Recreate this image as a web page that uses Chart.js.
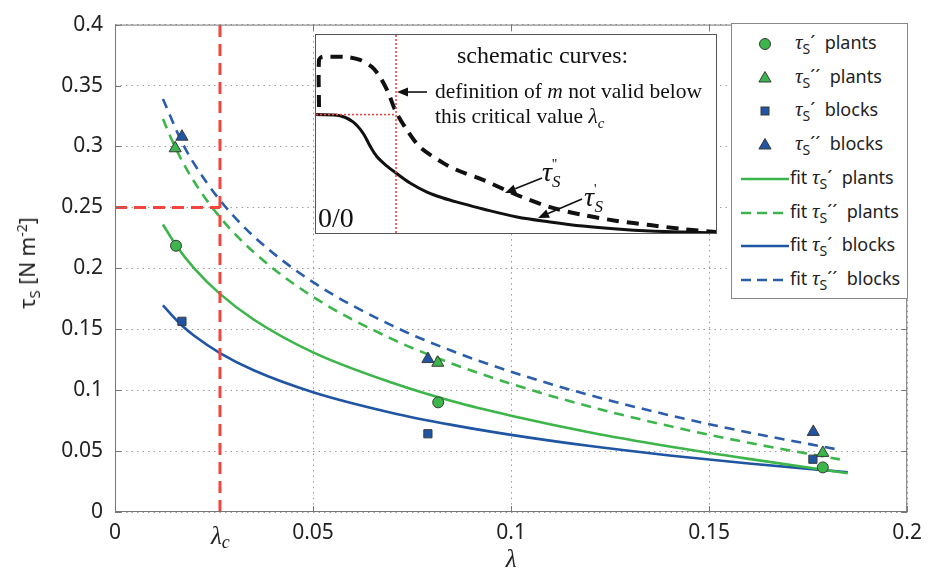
<!DOCTYPE html>
<html><head><meta charset="utf-8">
<script src="https://cdn.jsdelivr.net/npm/chart.js@4/dist/chart.umd.min.js"></script>
<style>
html,body{margin:0;padding:0;background:#fff;}
#wrap{position:relative;width:930px;height:570px;overflow:hidden;font-family:'Noto Sans',sans-serif;color:#222;}
#main{position:absolute;left:0;top:0;}
#insetBox{position:absolute;left:315px;top:34px;width:400px;height:198px;border:1px solid #555;background:#fff;}
#inset{position:absolute;left:0;top:0;}
.ann{position:absolute;white-space:nowrap;font-family:'Liberation Serif',serif;color:#111;line-height:1;}
.ann i{font-style:italic;}
#legend{position:absolute;left:731px;top:23px;width:175px;height:274px;border:1px solid #888;background:#fff;}
.lrow{position:absolute;left:0;height:30px;width:175px;}
.lrow svg{position:absolute;left:9px;top:0;}
.ltxt{position:absolute;left:63px;top:2px;font-size:18px;line-height:22px;white-space:nowrap;color:#222;}
.tau{font-family:'Liberation Serif',serif;font-style:italic;font-size:21px;}
.ltxt sub{font-size:14px;vertical-align:-5px;}
#ytitle{position:absolute;left:28px;top:263px;transform:translate(-50%,-50%) rotate(-90deg);white-space:nowrap;font-size:21px;}
#ytitle sub{font-size:15px;vertical-align:-5px;}
#ytitle sup{font-size:14px;vertical-align:8px;}
#lamc{position:absolute;left:211px;top:523px;font-family:'Liberation Serif',serif;font-style:italic;font-size:25px;line-height:1;}
#lamc sub{font-size:18px;vertical-align:-4px;}
</style></head>
<body>
<div id="wrap">
<canvas id="main" width="930" height="570"></canvas>
<div id="ytitle">τ<sub>S</sub> [N m<sup>-2</sup>]</div>
<div id="lamc">λ<sub>c</sub></div>
<div id="insetBox"><canvas id="inset" width="400" height="198"></canvas></div>
<div class="ann" style="left:457px;top:43px;font-size:24px;">schematic curves:</div>
<div class="ann" style="left:435px;top:81px;font-size:21.5px;">definition of <i>m</i> not valid below</div>
<div class="ann" style="left:435px;top:106px;font-size:21.5px;">this critical value <i>λ<sub style="font-size:15px">c</sub></i></div>
<div class="ann" style="left:542px;top:158px;font-size:28px;"><i>τ</i><span style="font-size:14px;position:relative;top:-12px;">''</span><i style="font-size:17px;position:relative;top:6px;left:-5px;">S</i></div>
<div class="ann" style="left:584px;top:183px;font-size:28px;"><i>τ</i><span style="font-size:14px;position:relative;top:-12px;">'</span><i style="font-size:17px;position:relative;top:6px;left:-2px;">S</i></div>
<div class="ann" style="left:318px;top:204px;font-size:28px;">0/0</div>
<div id="legend"></div>
</div>
<script>
// ---------- data ----------
const xTicks = [0, 0.05, 0.1, 0.15, 0.2];
const xTickLabels = ['0', '0.05', '0.1', '0.15', '0.2'];
const yTicks = [0, 0.05, 0.1, 0.15, 0.2, 0.25, 0.3, 0.35, 0.4];
const yTickLabels = ['0', '0.05', '0.1', '0.15', '0.2', '0.25', '0.3', '0.35', '0.4'];

const lambdaC = 0.0265;
const tauCrit = 0.25;

const plantsLambda = [0.0154, 0.0816, 0.1787];
const tau1Plants   = [0.2185, 0.0900, 0.0366];
const tau2PlantsLambda = [0.0152, 0.0815, 0.1787];
const tau2Plants   = [0.2985, 0.1225, 0.0485];
const blocksLambda = [0.0169, 0.0790, 0.1762];
const tau1Blocks   = [0.1565, 0.0642, 0.0433];
const tau2BlocksLambda = [0.0169, 0.0790, 0.1763];
const tau2Blocks   = [0.3080, 0.1255, 0.0657];

const fit1PlantsX = [0.0121, 0.0154, 0.02, 0.0265, 0.035, 0.05, 0.07, 0.085, 0.1, 0.12, 0.14, 0.16, 0.185];
const fit1PlantsY = [0.236, 0.219, 0.200, 0.179, 0.158, 0.131, 0.106, 0.091, 0.079, 0.0653, 0.0538, 0.0436, 0.0318];
const fit2PlantsX = [0.0121, 0.0154, 0.02, 0.0265, 0.035, 0.05, 0.07, 0.085, 0.1, 0.12, 0.14, 0.16, 0.183];
const fit2PlantsY = [0.3225, 0.298, 0.271, 0.242, 0.2133, 0.1766, 0.1419, 0.1219, 0.1052, 0.0864, 0.0705, 0.0568, 0.0432];
const fit1BlocksX = [0.0121, 0.0169, 0.02, 0.0265, 0.035, 0.05, 0.07, 0.085, 0.1, 0.12, 0.14, 0.16, 0.185];
const fit1BlocksY = [0.1695, 0.153, 0.1446, 0.1304, 0.1163, 0.0983, 0.0813, 0.0715, 0.0633, 0.0541, 0.0464, 0.0398, 0.0326];
const fit2BlocksX = [0.0121, 0.0169, 0.02, 0.0265, 0.035, 0.05, 0.07, 0.085, 0.1, 0.12, 0.14, 0.16, 0.183];
const fit2BlocksY = [0.339, 0.3035, 0.2857, 0.2559, 0.2263, 0.1886, 0.1529, 0.1323, 0.1151, 0.0958, 0.0794, 0.0653, 0.051];

// inset (schematic, normalised 0..1)
const insetSolidX = [0, 0.06, 0.0925, 0.1175, 0.135, 0.1525, 0.1775, 0.2, 0.235, 0.2775, 0.3175, 0.36, 0.4175, 0.5025, 0.585, 0.6675, 0.7525, 0.835, 0.9175, 1.0];
const insetSolidY = [0.598, 0.592, 0.561, 0.505, 0.440, 0.385, 0.338, 0.303, 0.253, 0.207, 0.177, 0.152, 0.121, 0.081, 0.056, 0.035, 0.020, 0.010, 0.005, 0.0];
const insetDashX = [0.0075, 0.0075, 0.015, 0.035, 0.0775, 0.11, 0.14, 0.16, 0.18, 0.2, 0.2275, 0.26, 0.3175, 0.3525, 0.4175, 0.5025, 0.585, 0.6675, 0.7525, 0.835, 0.9175, 1.0];
const insetDashY = [0.636, 0.874, 0.889, 0.890, 0.889, 0.874, 0.838, 0.788, 0.712, 0.611, 0.520, 0.434, 0.354, 0.318, 0.268, 0.192, 0.131, 0.091, 0.061, 0.040, 0.020, 0.005];
const insetCritX = 0.2;
const insetCritY = 0.598;
const insetArrows = [
  {from: [0.2775, 0.712], to: [0.2025, 0.712]},
  {from: [0.565, 0.278], to: [0.4725, 0.202]},
  {from: [0.665, 0.172], to: [0.555, 0.076]}
];

// ---------- style ----------
const GREEN = '#3cb54a', BLUE = '#1f55a3', BLUE2 = '#2a5eab', RED = '#f0463d', EDGE = '#3a3a3a';
const pts = (xs, ys) => xs.map((x, i) => ({x: x, y: ys[i]}));

const markerSets = [
  {label: 'τS´ plants',  data: pts(plantsLambda, tau1Plants), pointStyle: 'circle', pointRadius: 5.5, color: GREEN},
  {label: 'τS´´ plants', data: pts(tau2PlantsLambda, tau2Plants), pointStyle: 'triangle', pointRadius: 7, color: GREEN},
  {label: 'τS´ blocks',  data: pts(blocksLambda, tau1Blocks), pointStyle: 'rect', pointRadius: 5.8, color: BLUE},
  {label: 'τS´´ blocks', data: pts(tau2BlocksLambda, tau2Blocks), pointStyle: 'triangle', pointRadius: 7, color: BLUE}
].map(d => ({
  label: d.label, data: d.data, showLine: false, pointStyle: d.pointStyle, pointRadius: d.pointRadius,
  pointBackgroundColor: d.color, pointBorderColor: EDGE, pointBorderWidth: 1, borderColor: d.color,
  backgroundColor: d.color, legendKind: 'marker', legendColor: d.color
}));

const fitSets = [
  {label: 'fit τS´ plants',  data: pts(fit1PlantsX, fit1PlantsY), color: GREEN, dash: []},
  {label: 'fit τS´´ plants', data: pts(fit2PlantsX, fit2PlantsY), color: GREEN, dash: [10, 7]},
  {label: 'fit τS´ blocks',  data: pts(fit1BlocksX, fit1BlocksY), color: BLUE, dash: []},
  {label: 'fit τS´´ blocks', data: pts(fit2BlocksX, fit2BlocksY), color: BLUE2, dash: [10, 7]}
].map(d => ({
  label: d.label, data: d.data, borderColor: d.color, backgroundColor: d.color, borderWidth: 2.6,
  borderDash: d.dash, pointRadius: 0, cubicInterpolationMode: 'monotone', fill: false, legendKind: 'line'
}));

const redSets = [
  {label: 'lambdaC', data: [{x: lambdaC, y: 0}, {x: lambdaC, y: 0.4}]},
  {label: 'tauCrit', data: [{x: 0, y: tauCrit}, {x: lambdaC, y: tauCrit}]}
].map(d => ({
  label: d.label, data: d.data, borderColor: RED, borderWidth: 3, borderDash: [12, 7], pointRadius: 0,
  fill: false, legendKind: 'none'
}));

const TICK_FONT = {family: 'Noto Sans', size: 21};

const framePlugin = {
  id: 'frame',
  beforeDraw(chart) {
    const c = chart.ctx; c.save(); c.fillStyle = '#fff'; c.fillRect(0, 0, chart.width, chart.height); c.restore();
  },
  afterDatasetsDraw(chart) {
    const {ctx, chartArea: a, scales} = chart;
    ctx.save();
    ctx.strokeStyle = '#777'; ctx.lineWidth = 1; ctx.setLineDash([]);
    ctx.strokeRect(a.left + 0.5, a.top + 0.5, a.right - a.left - 1, a.bottom - a.top - 1);
    const L = 6;
    ctx.beginPath();
    scales.x.ticks.forEach(t => {
      const px = Math.round(scales.x.getPixelForValue(t.value)) + 0.5;
      ctx.moveTo(px, a.bottom); ctx.lineTo(px, a.bottom - L);
      ctx.moveTo(px, a.top); ctx.lineTo(px, a.top + L);
    });
    scales.y.ticks.forEach(t => {
      const py = Math.round(scales.y.getPixelForValue(t.value)) + 0.5;
      ctx.moveTo(a.left, py); ctx.lineTo(a.left + L, py);
      ctx.moveTo(a.right, py); ctx.lineTo(a.right - L, py);
    });
    ctx.stroke();
    ctx.restore();
  }
};

const gridCfg = {color: '#9a9a9a', lineWidth: 1, drawTicks: false, borderDash: [1.5, 4]};

const mainChart = new Chart(document.getElementById('main'), {
  type: 'line',
  data: {datasets: [...markerSets, ...redSets, ...fitSets]},
  options: {
    responsive: false, animation: false, devicePixelRatio: 1,
    layout: {padding: {left: 0, top: 16, right: 22, bottom: 0}},
    plugins: {legend: {display: false}, tooltip: {enabled: false}},
    scales: {
      x: {
        type: 'linear', min: 0, max: 0.2,
        afterBuildTicks: s => { s.ticks = xTicks.map(v => ({value: v})); },
        afterFit: s => { s.height = 58; },
        ticks: {callback: (v, i) => xTickLabels[i], font: TICK_FONT, color: '#222', padding: 8, maxRotation: 0, autoSkip: false},
        grid: gridCfg,
        border: {display: false, dash: [1.5, 4]},
        title: {display: true, text: 'λ', font: {family: 'Liberation Serif', style: 'italic', size: 25}, color: '#222', padding: {top: 0, bottom: -5}}
      },
      y: {
        type: 'linear', min: 0, max: 0.4,
        afterBuildTicks: s => { s.ticks = yTicks.map(v => ({value: v})); },
        afterFit: s => { s.width = 115; },
        ticks: {callback: (v, i) => yTickLabels[i], font: TICK_FONT, color: '#222', padding: 12, autoSkip: false},
        grid: gridCfg,
        border: {display: false, dash: [1.5, 4]}
      }
    }
  },
  plugins: [framePlugin]
});

// ---------- inset ----------
const arrowPlugin = {
  id: 'arrows',
  beforeDraw(chart) {
    const c = chart.ctx; c.save(); c.fillStyle = '#fff'; c.fillRect(0, 0, chart.width, chart.height); c.restore();
  },
  afterDatasetsDraw(chart) {
    const {ctx, scales: {x, y}} = chart;
    ctx.save();
    ctx.strokeStyle = '#111'; ctx.fillStyle = '#111'; ctx.lineWidth = 1.6; ctx.setLineDash([]);
    insetArrows.forEach(a => {
      const x1 = x.getPixelForValue(a.from[0]), y1 = y.getPixelForValue(a.from[1]);
      const x2 = x.getPixelForValue(a.to[0]), y2 = y.getPixelForValue(a.to[1]);
      const ang = Math.atan2(y2 - y1, x2 - x1), h = 11, w = 4.5;
      const bx = x2 - h * Math.cos(ang), by = y2 - h * Math.sin(ang);
      ctx.beginPath(); ctx.moveTo(x1, y1); ctx.lineTo(bx, by); ctx.stroke();
      ctx.beginPath();
      ctx.moveTo(x2, y2);
      ctx.lineTo(bx + w * Math.sin(ang), by - w * Math.cos(ang));
      ctx.lineTo(bx - w * Math.sin(ang), by + w * Math.cos(ang));
      ctx.closePath(); ctx.fill();
    });
    ctx.restore();
  }
};

new Chart(document.getElementById('inset'), {
  type: 'line',
  data: {datasets: [
    {data: [{x: insetCritX, y: 0}, {x: insetCritX, y: 1}], borderColor: RED, borderWidth: 1.6, borderDash: [2, 2], pointRadius: 0},
    {data: [{x: 0, y: insetCritY}, {x: insetCritX, y: insetCritY}], borderColor: RED, borderWidth: 1.6, borderDash: [2, 2], pointRadius: 0},
    {data: pts(insetSolidX, insetSolidY), borderColor: '#111', borderWidth: 3, pointRadius: 0, tension: 0.35},
    {data: pts(insetDashX, insetDashY), borderColor: '#111', borderWidth: 4, borderDash: [12, 8], pointRadius: 0, tension: 0.3}
  ]},
  options: {
    responsive: false, animation: false, devicePixelRatio: 1,
    layout: {padding: 0},
    plugins: {legend: {display: false}, tooltip: {enabled: false}},
    scales: {
      x: {type: 'linear', min: 0, max: 1, display: false},
      y: {type: 'linear', min: 0, max: 1, display: false}
    }
  },
  plugins: [arrowPlugin]
});

// ---------- legend (HTML, from datasets) ----------
function labelHtml(lbl) {
  return lbl.replace(/τS(´+)/, (m, p) => '<span class="tau">τ</span><sub>S</sub>' + p + '&nbsp;');
}
const legendEl = document.getElementById('legend');
[...markerSets, ...fitSets].forEach((d, i) => {
  const row = document.createElement('div');
  row.className = 'lrow';
  row.style.top = (5 + i * 33.7) + 'px';
  let sym = '';
  if (d.legendKind === 'marker') {
    const c = d.legendColor;
    if (d.pointStyle === 'circle') sym = `<circle cx="24" cy="15" r="5.5" fill="${c}" stroke="${EDGE}" stroke-width="1"/>`;
    else if (d.pointStyle === 'rect') sym = `<rect x="20" y="11" width="8" height="8" fill="${c}" stroke="${EDGE}" stroke-width="1"/>`;
    else sym = `<polygon points="24,8.5 30.1,19 17.9,19" fill="${c}" stroke="${EDGE}" stroke-width="1"/>`;
  } else {
    const dash = d.borderDash.length ? `stroke-dasharray="10 6"` : '';
    sym = `<line x1="0" y1="15" x2="48" y2="15" stroke="${d.borderColor}" stroke-width="2.6" ${dash}/>`;
  }
  row.innerHTML = `<svg width="48" height="30">${sym}</svg><div class="ltxt" style="left:${d.legendKind === 'marker' ? 63 : 58}px">${labelHtml(d.label)}</div>`;
  legendEl.appendChild(row);
});
</script>
</body></html>
